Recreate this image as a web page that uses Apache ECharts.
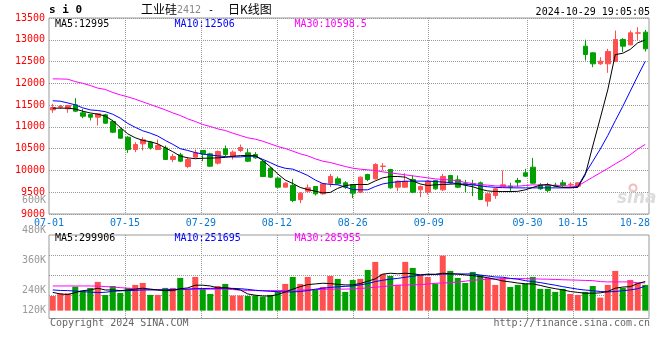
<!DOCTYPE html>
<html><head><meta charset="utf-8">
<script src="https://cdn.jsdelivr.net/npm/echarts@6/dist/echarts.min.js"></script>
<style>html,body{margin:0;padding:0;background:#fff}#c{width:660px;height:360px}</style>
</head><body><div id="c"></div>
<script>
// ---------------- data ----------------
const dates = ['07-01','07-02','07-03','07-04','07-05','07-08','07-09','07-10','07-11','07-12','07-15','07-16','07-17','07-18','07-19','07-22','07-23','07-24','07-25','07-26','07-29','07-30','07-31','08-01','08-02','08-05','08-06','08-07','08-08','08-09','08-12','08-13','08-14','08-15','08-16','08-19','08-20','08-21','08-22','08-23','08-26','08-27','08-28','08-29','08-30','09-02','09-03','09-04','09-05','09-06','09-09','09-10','09-11','09-12','09-13','09-18','09-19','09-20','09-23','09-24','09-25','09-26','09-27','09-30','10-08','10-09','10-10','10-11','10-14','10-15','10-16','10-17','10-18','10-21','10-22','10-23','10-24','10-25','10-28','10-29'];
const labelDates = ['07-01','07-15','07-29','08-12','08-26','09-09','09-30','10-15','10-28'];
const gridDates = ['07-15','07-29','08-12','08-26','09-09','09-30','10-15'];

const opens = [11390,11452,11415,11506,11323,11284,11223,11277,11124,10940,
10764,10481,10611,10649,10481,10519,10251,10358,10090,10305,
10458,10381,10167,10496,10328,10458,10404,10366,10205,10052,
9823,9616,9654,9330,9524,9631,9463,9708,9807,9716,
9670,9501,9907,9807,10090,10022,9616,9616,9792,9555,
9501,9769,9555,9884,9784,9693,9693,9716,9295,9425,
9631,9639,9769,9945,10075,9670,9654,9662,9716,9670,
9639,12853,12700,12448,12448,12501,13006,12884,13151,13175];
const closes = [11445,11468,11491,11361,11246,11223,11300,11085,10879,10741,
10481,10596,10703,10519,10573,10251,10320,10213,10251,10404,
10381,10098,10435,10366,10420,10527,10213,10290,9861,9846,
9616,9708,9310,9478,9601,9463,9693,9861,9693,9616,
9478,9846,9792,10136,10100,9601,9754,9754,9501,9631,
9754,9578,9861,9716,9616,9670,9670,9333,9463,9578,
9670,9616,9731,9869,9708,9578,9540,9639,9654,9685,
9716,12662,12448,12509,12731,13006,12853,13159,13159,12792];
const lows = [11320,11415,11323,11338,11200,11147,11032,11070,10856,10726,
10404,10420,10458,10481,10473,10251,10190,10190,10052,10282,
10213,10083,10136,10328,10251,10420,10190,10267,9846,9830,
9601,9616,9272,9249,9478,9425,9448,9616,9677,9578,
9364,9478,9754,9792,9999,9578,9524,9601,9478,9387,
9448,9555,9524,9693,9593,9501,9410,9325,9172,9348,
9616,9501,9616,9846,9693,9555,9501,9616,9616,9616,
9601,12524,12371,12425,12241,12486,12716,12869,12983,12731];
const highs = [11530,11506,11506,11659,11415,11300,11300,11300,11162,10971,
10787,10649,10764,10672,10710,10573,10381,10404,10305,10481,
10458,10404,10458,10573,10458,10596,10496,10420,10244,10075,
9846,9731,9807,9501,9677,9631,9708,9922,9861,9754,
9677,9861,9922,10167,10167,10037,9769,9937,9884,9654,
9784,9784,9922,9899,9884,9784,9784,9746,9478,9593,
9999,9716,9830,10037,10289,9708,9716,9716,9784,9731,
9731,13001,12716,12601,12792,13213,13037,13213,13290,13228];

const ma5 = [11430,11430,11430,11410,11360,11320,11292,11250,11140,10990,
10840,10750,10690,10660,10610,10520,10430,10330,10289,10270,
10280,10282,10290,10300,10325,10340,10343,10340,10228,10085,
9920,9780,9700,9610,9560,9524,9485,9495,9590,9650,
9677,9677,9677,9760,9830,9861,9861,9846,9760,9690,
9654,9670,9677,9685,9693,9660,9625,9570,9530,9516,
9516,9516,9520,9555,9610,9660,9680,9640,9610,9601,
9610,9900,10560,11200,11850,12660,12690,12780,12930,12995];
const ma10 = [11600,11590,11550,11506,11437,11390,11376,11350,11290,11200,
11080,10990,10910,10856,10790,10690,10600,10500,10458,10410,
10375,10355,10335,10318,10308,10310,10325,10328,10255,10180,
10100,10050,10030,9960,9884,9780,9700,9680,9670,9620,
9560,9555,9555,9630,9690,9720,9740,9750,9755,9755,
9754,9745,9735,9720,9695,9685,9670,9645,9625,9612,
9605,9601,9600,9600,9600,9600,9600,9600,9600,9605,
9630,9930,10210,10490,10800,11140,11470,11820,12170,12506];
const ma30 = [12103,12100,12095,12040,12000,11950,11890,11860,11790,11736,
11690,11636,11575,11514,11453,11391,11322,11261,11185,11124,
11055,11009,10955,10917,10856,10802,10749,10718,10672,10611,
10550,10504,10443,10381,10335,10266,10213,10182,10136,10090,
10052,10029,10014,9999,9968,9945,9922,9899,9876,9853,
9830,9807,9792,9784,9761,9723,9700,9677,9662,9647,
9639,9639,9639,9654,9670,9662,9662,9654,9647,9639,
9639,9745,9845,9945,10045,10150,10250,10360,10490,10598.5];

// volume, in thousands
const volumes = [151,179,179,247,206,234,296,162,254,182,
234,265,285,162,162,234,234,337,216,347,
224,172,254,275,155,155,151,155,144,162,
196,275,347,275,347,216,244,357,327,193,
316,327,419,502,378,357,265,502,440,368,
347,278,567,409,337,285,399,368,337,265,
337,244,265,275,347,224,224,193,224,172,
162,193,254,134,265,409,234,316,285,265];
const volMa5 = [188,172,165,186,206,213,231,213,213,206,
213,221,231,221,213,206,206,226,234,262,
262,254,234,237,226,213,172,159,151,151,
165,193,221,247,268,275,282,279,270,265,
265,279,303,327,376,385,380,385,380,368,
376,374,385,380,376,368,361,351,339,323,
306,296,284,277,275,260,241,226,214,197,
188,179,179,183,197,231,243,247,279,299.906];
const volMa10 = [213,208,206,202,195,191,186,189,199,204,
206,209,213,213,213,214,218,221,222,226,
228,229,231,231,229,226,219,210,204,199,
195,193,193,197,207,221,231,239,246,250,
254,265,279,299,313,324,332,344,354,366,
371,373,376,378,378,378,378,366,357,347,
344,332,324,309,299,289,275,262,247,234,
221,212,206,197,193,197,206,213,226,251.695];
const volMa30 = [254,254,254,254,254,254,253,248,243,237,
231,227,223,220,216,213,215,217,219,221,
221,221,221,221,217,212,207,206,206,206,
206,208,210,212,214,217,219,221,221,222,
223,228,234,241,248,256,262,264,266,268,
274,282,285,288,294,303,313,318,324,326,
328,330,330,330,328,325,324,321,318,316,
314,311,309,299,296,296,296,296,287,285.955];

const volTickLabels = ['600K','480K','360K','240K','120K'];
const volTickY = [200.3, 230.7, 260.8, 290.7, 310.7];

// ---------------- style ----------------
const UP = '#ff5050', DOWN = '#00a000';
const BLUE_LBL = '#0a78d2';
const MONO = '"DejaVu Sans Mono","Liberation Mono",monospace';
const CJK = '"Noto Sans CJK SC",sans-serif';
const GRIDLINE = {color:'#999', type:[1,1], width:1};

const chart = echarts.init(document.getElementById('c'), null, {renderer:'canvas'});

function txt(x, y, text, fill, font, align) {
  align = align || 'left';
  return {type:'text', x:x, y:y, silent:true, z:100,
    style:{text:text, fill:fill, font:font, align:align, verticalAlign:'middle',
           textAlign:align, textVerticalAlign:'middle'}};
}
const last = a => a[a.length - 1];
const mono10 = '10px ' + MONO;

const graphics = [
  txt(49, 10.5, 's i 0', '#000', 'bold 11px ' + MONO),
  txt(141, 9.5, '工业硅', '#000', '12px ' + CJK),
  txt(177, 10, '2412', '#888', mono10),
  txt(211, 10, '-', '#000', mono10, 'center'),
  txt(228, 9.5, '日K线图', '#000', '12px ' + CJK),
  txt(650, 12, '2024-10-29 19:05:05', '#000', mono10, 'right'),
  txt(55, 24, 'MA5:' + last(ma5), '#000', mono10),
  txt(174.5, 24, 'MA10:' + last(ma10), '#0000ff', mono10),
  txt(294.5, 24, 'MA30:' + last(ma30), '#ff00ff', mono10),
  txt(55, 238, 'MA5:' + Math.round(last(volMa5) * 1000), '#000', mono10),
  txt(174.5, 238, 'MA10:' + Math.round(last(volMa10) * 1000), '#0000ff', mono10),
  txt(294.5, 238, 'MA30:' + Math.round(last(volMa30) * 1000), '#ff00ff', mono10),
  txt(50, 323.5, 'Copyright 2024 SINA.COM', '#666', mono10),
  txt(650, 323.5, 'http://finance.sina.com.cn', '#666', mono10, 'right'),
  {type:'circle', shape:{cx:633, cy:188, r:3.5}, silent:true, z:1,
   style:{fill:'none', stroke:'#f2bcbc', lineWidth:2}},
  txt(617, 199, 'sina', '#dcdcdc', 'italic bold 17px "DejaVu Sans",sans-serif')
];
volTickLabels.forEach((t, i) => graphics.push(txt(46, volTickY[i], t, '#999', mono10, 'right')));

const lineS = (data, color, xi, yi) => ({type:'line', data:data, xAxisIndex:xi, yAxisIndex:yi,
  symbol:'none', silent:true, lineStyle:{color:color, width:1}, z:5});

const option = {
  animation:false,
  backgroundColor:'#fff',
  grid:[
    {left:49, right:11, top:18, height:196, show:true, borderColor:'#999', borderWidth:1},
    {left:49, right:11, top:235, height:83.5, show:true, borderColor:'#999', borderWidth:1}
  ],
  xAxis:[
    {type:'category', gridIndex:0, data:dates, boundaryGap:true, show:false, position:'top'},
    {type:'category', gridIndex:0, data:dates, boundaryGap:false, position:'bottom',
     axisLine:{show:false}, axisTick:{show:false},
     axisLabel:{interval:(i, v) => labelDates.includes(v), color:BLUE_LBL, fontFamily:MONO, fontSize:10, margin:4,
       hideOverlap:false,
       formatter:v => v === last(labelDates) ? '{e|' + v + '}' : v,
       rich:{e:{padding:[0,13,0,0], color:BLUE_LBL, fontFamily:MONO, fontSize:10}}},
     splitLine:{show:true, interval:(i, v) => gridDates.includes(v), lineStyle:GRIDLINE}},
    {type:'category', gridIndex:1, data:dates, boundaryGap:true, show:false, position:'top'},
    {type:'category', gridIndex:1, data:dates, boundaryGap:false, position:'bottom',
     axisLine:{show:false}, axisTick:{show:false}, axisLabel:{show:false},
     splitLine:{show:true, interval:(i, v) => gridDates.includes(v), lineStyle:GRIDLINE}}
  ],
  yAxis:[
    {type:'value', gridIndex:0, min:9000, max:13500, interval:500, position:'left',
     axisLine:{show:false}, axisTick:{show:false},
     axisLabel:{color:'#ff0000', fontFamily:MONO, fontSize:10, margin:4, padding:[0,0,3,0],
       formatter:v => String(v)},
     splitLine:{show:true, lineStyle:GRIDLINE}},
    {type:'value', gridIndex:1, min:-81, max:779, show:false},
    {type:'value', gridIndex:1, min:0, max:83.5, interval:20.2, inverse:true, position:'right',
     axisLine:{show:false}, axisTick:{show:false}, axisLabel:{show:false},
     splitLine:{show:true, lineStyle:{color:['transparent','#999','#999','#999','transparent','transparent'], type:[1,1], width:1}}}
  ],
  series:[
    {type:'candlestick', xAxisIndex:0, yAxisIndex:0, barWidth:5, silent:true,
     data:dates.map((d, i) => [opens[i], closes[i], lows[i], highs[i]]),
     itemStyle:{color:UP, color0:DOWN, borderColor:UP, borderColor0:DOWN, borderWidth:1}},
    lineS(ma30, '#ff00ff', 0, 0),
    lineS(ma10, '#0000ff', 0, 0),
    lineS(ma5, '#000000', 0, 0),
    {type:'bar', xAxisIndex:2, yAxisIndex:1, barWidth:6, silent:true, data:volumes,
     itemStyle:{color:p => closes[p.dataIndex] >= opens[p.dataIndex] ? UP : DOWN}},
    lineS(volMa30, '#ff00ff', 2, 1),
    lineS(volMa10, '#0000ff', 2, 1),
    lineS(volMa5, '#000000', 2, 1)
  ],
  graphic:graphics
};
chart.setOption(option);
</script>
</body></html>
